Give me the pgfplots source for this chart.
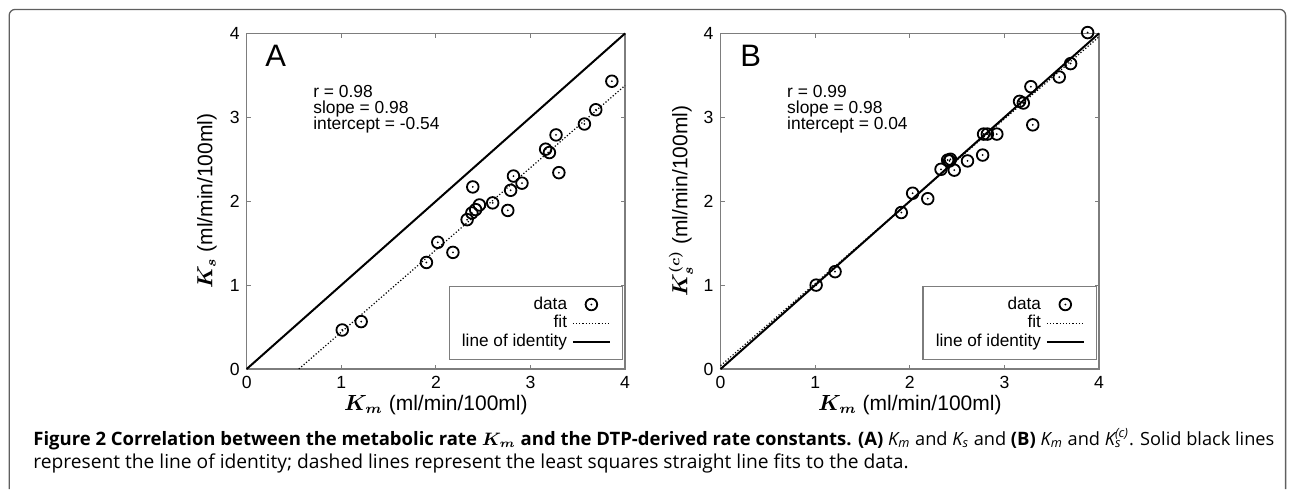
\documentclass[border=0pt]{standalone}
\usepackage{fontspec}
\setmainfont{Liberation Sans}
\newfontfamily\capfont{Open Sans}
\usepackage{bm}
\usepackage{pgfplots}
\pgfplotsset{compat=1.18}
\definecolor{axisgray}{RGB}{125,125,125}
\definecolor{framegray}{RGB}{95,95,95}

\pgfdeclareplotmark{odot}{%
  \pgfpathcircle{\pgfpointorigin}{\pgfplotmarksize}%
  \pgfusepathqstroke
  \pgfpathcircle{\pgfpointorigin}{0.5pt}%
  \pgfusepathqfill
}

\pgfplotstableread{
x y
1.01 0.465
1.21 0.565
1.90 1.27
2.02 1.51
2.18 1.39
2.33 1.78
2.38 1.86
2.39 2.17
2.42 1.90
2.46 1.955
2.60 1.98
2.76 1.89
2.79 2.13
2.82 2.30
2.91 2.215
3.16 2.62
3.20 2.58
3.27 2.79
3.30 2.34
3.57 2.92
3.69 3.09
3.86 3.43
}\dataA

\pgfplotstableread{
x y
1.01 1.00
1.21 1.16
1.91 1.865
2.03 2.095
2.19 2.03
2.33 2.38
2.40 2.49
2.42 2.48
2.43 2.50
2.47 2.37
2.61 2.48
2.77 2.55
2.78 2.80
2.82 2.80
2.92 2.80
3.16 3.19
3.20 3.17
3.28 3.365
3.30 2.91
3.58 3.48
3.70 3.64
3.88 4.01
}\dataB

\pgfplotsset{
  myaxis/.style={
    scale only axis, width=189.2pt, height=167.8pt,
    anchor=south west,
    xmin=0, xmax=4, ymin=0, ymax=4,
    xtick={0,1,2,3,4}, ytick={0,1,2,3,4},
    tick align=inside, major tick length=2.2pt,
    tick style={color=axisgray, line width=0.5pt},
    axis line style={color=axisgray, line width=0.6pt},
    ticklabel style={font=\fontsize{8.8}{10}\selectfont},
    /pgf/number format/assume math mode=true,
    clip=false,
    label style={font=\fontsize{10.5}{12}\selectfont},
    xlabel style={at={(axis description cs:0.5,-0.107)}, anchor=center},
    ylabel style={at={(axis description cs:-0.105,0.5)}, anchor=center},
    legend plot pos=right,
    legend cell align=right,
    legend style={at={(axis description cs:1,0)}, anchor=south east,
      xshift=-0.8pt, yshift=4.5pt, draw=axisgray, line width=0.6pt,
      font=\fontsize{8.6}{10}\selectfont,
      inner xsep=6pt, inner ysep=4.2pt, row sep=0pt, column sep=2pt,
      nodes={inner sep=0.4pt, text height=6.5pt, text depth=2pt}},
  },
  datastyle/.style={only marks, mark=odot, mark size=2.9pt,
    mark options={line width=0.9pt, fill=black, draw=black},
    legend image code/.code={\draw[mark repeat=2,mark phase=2,##1] plot coordinates {(0pt,0pt)(9.25pt,0pt)(18.5pt,0pt)};}},
  fitstyle/.style={densely dotted, line width=0.6pt,
    legend image code/.code={\draw[##1] (0pt,0pt) -- (18.5pt,0pt);}},
  idstyle/.style={line width=1pt,
    legend image code/.code={\draw[##1] (0pt,0pt) -- (18.5pt,0pt);}},
}

\newcommand{\Ksc}{{\itshape K\makebox[0pt][l]{\textsubscript{s}}\textsuperscript{(c)}}}
\newcommand{\capb}[1]{{\fontsize{9.25}{11}\selectfont\bfseries #1}}

\begin{document}
\begin{tikzpicture}
\path[use as bounding box] (0pt,0pt) rectangle (646pt,244.5pt);
\draw[framegray, line width=0.65pt, rounded corners=3pt]
  (4.6pt,0pt) -- (4.6pt,239.8pt) -- (642.8pt,239.8pt) -- (642.8pt,0pt);

\begin{axis}[myaxis, at={(123.35pt,60pt)},
  xlabel={$\bm{K_m}$ (ml/min/100ml)},
  ylabel={$\bm{K_s}$ (ml/min/100ml)}]
\addplot[datastyle] table[x=x,y=y] {\dataA};
\addlegendentry{data}
\addplot[fitstyle] coordinates {(0.551,0) (4,3.38)};
\addlegendentry{fit}
\addplot[idstyle] coordinates {(0,0) (4,4)};
\addlegendentry{line of identity}
\node[anchor=base west, inner sep=0pt, font=\fontsize{15.5}{17}\selectfont] at (axis cs:0.193,3.60) {A};
\node[anchor=base west, inner sep=0pt, font=\fontsize{8.7}{10}\selectfont] at (axis cs:0.70,3.238) {r = 0.98};
\node[anchor=base west, inner sep=0pt, font=\fontsize{8.7}{10}\selectfont] at (axis cs:0.70,3.048) {slope = 0.98};
\node[anchor=base west, inner sep=0pt, font=\fontsize{8.7}{10}\selectfont] at (axis cs:0.70,2.85) {intercept = -0.54};
\end{axis}

\begin{axis}[myaxis, at={(360.3pt,60pt)},
  xlabel={$\bm{K_m}$ (ml/min/100ml)},
  ylabel={$\bm{K_s^{(c)}}$ (ml/min/100ml)}]
\addplot[datastyle] table[x=x,y=y] {\dataB};
\addlegendentry{data}
\addplot[fitstyle] coordinates {(0,0.04) (4,3.96)};
\addlegendentry{fit}
\addplot[idstyle] coordinates {(0,0) (4,4)};
\addlegendentry{line of identity}
\node[anchor=base west, inner sep=0pt, font=\fontsize{15.5}{17}\selectfont] at (axis cs:0.204,3.60) {B};
\node[anchor=base west, inner sep=0pt, font=\fontsize{8.7}{10}\selectfont] at (axis cs:0.70,3.238) {r = 0.99};
\node[anchor=base west, inner sep=0pt, font=\fontsize{8.7}{10}\selectfont] at (axis cs:0.70,3.048) {slope = 0.98};
\node[anchor=base west, inner sep=0pt, font=\fontsize{8.7}{10}\selectfont] at (axis cs:0.70,2.85) {intercept = 0.04};
\end{axis}

\node[anchor=base west, inner sep=0pt, font=\capfont\fontsize{9.1}{11}\selectfont] at (16.5pt,22pt)
 {\capb{Figure 2 Correlation between the metabolic rate $\bm{K_m}$ and the DTP-derived rate constants. (A)} {\itshape K\textsubscript{m}} and {\itshape K\textsubscript{s}} and \capb{(B)} {\itshape K\textsubscript{m}} and \Ksc. Solid black lines};
\node[anchor=base west, inner sep=0pt, font=\capfont\fontsize{9.6}{11}\selectfont] at (16.5pt,10.5pt)
 {represent the line of identity; dashed lines represent the least squares straight line fits to the data.};
\end{tikzpicture}
\end{document}
